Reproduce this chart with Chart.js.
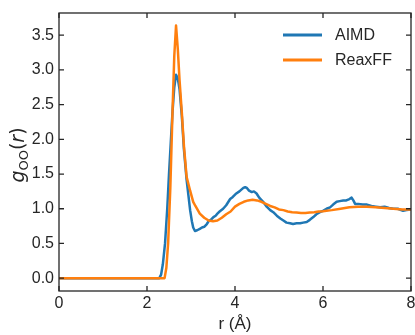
<!DOCTYPE html>
<html>
<head>
<meta charset="utf-8">
<script src="https://cdn.jsdelivr.net/npm/chart.js@4/dist/chart.umd.min.js"></script>
<style>
  html, body { margin: 0; padding: 0; background: #fff; }
</style>
</head>
<body>
<canvas id="gr" width="415" height="335"></canvas>
<script>
// AIMD g_OO(r)
const aimdR = [0, 2.28, 2.32, 2.36, 2.41, 2.46, 2.5, 2.54, 2.58, 2.62, 2.66, 2.7, 2.74, 2.79, 2.84, 2.9, 2.94, 2.98, 3.02, 3.05, 3.09, 3.14, 3.2, 3.25, 3.3, 3.36, 3.4, 3.45, 3.51, 3.56, 3.6, 3.65, 3.73, 3.8, 3.89, 3.95, 4.03, 4.1, 4.19, 4.23, 4.27, 4.32, 4.38, 4.43, 4.49, 4.55, 4.64, 4.72, 4.8, 4.87, 4.95, 5.03, 5.1, 5.17, 5.25, 5.32, 5.4, 5.48, 5.55, 5.63, 5.7, 5.78, 5.85, 5.93, 6.0, 6.08, 6.16, 6.23, 6.31, 6.38, 6.46, 6.53, 6.6, 6.65, 6.69, 6.73, 6.8, 6.9, 7.0, 7.1, 7.2, 7.3, 7.4, 7.5, 7.6, 7.7, 7.82, 7.9, 8.0]
const aimdG = [0, 0, 0.05, 0.2, 0.5, 1.0, 1.5, 1.95, 2.4, 2.75, 2.93, 2.88, 2.72, 2.35, 1.85, 1.42, 1.2, 0.98, 0.82, 0.73, 0.68, 0.69, 0.71, 0.73, 0.74, 0.78, 0.82, 0.84, 0.88, 0.9, 0.93, 0.96, 1.0, 1.05, 1.14, 1.17, 1.22, 1.25, 1.3, 1.31, 1.3, 1.26, 1.24, 1.25, 1.22, 1.16, 1.1, 1.03, 0.98, 0.95, 0.9, 0.86, 0.83, 0.8, 0.79, 0.78, 0.79, 0.79, 0.8, 0.81, 0.84, 0.88, 0.92, 0.95, 0.97, 1.0, 1.02, 1.06, 1.1, 1.11, 1.12, 1.12, 1.14, 1.16, 1.12, 1.07, 1.07, 1.06, 1.06, 1.04, 1.03, 1.02, 1.03, 1.01, 1.0, 1.0, 0.97, 0.98, 0.99]

// ReaxFF g_OO(r)
const reaxR = [0, 2.4, 2.44, 2.48, 2.53, 2.58, 2.62, 2.66, 2.7, 2.74, 2.79, 2.84, 2.9, 2.98, 3.05, 3.1, 3.2, 3.3, 3.4, 3.5, 3.6, 3.7, 3.8, 3.9, 4.0, 4.1, 4.2, 4.3, 4.4, 4.5, 4.6, 4.7, 4.8, 4.9, 5.0, 5.1, 5.2, 5.3, 5.4, 5.5, 5.6, 5.7, 5.8, 5.9, 6.0, 6.2, 6.4, 6.6, 6.8, 7.0, 7.2, 7.4, 7.6, 7.8, 8.0]
const reaxG = [0, 0, 0.15, 0.5, 1.3, 2.4, 3.2, 3.64, 3.3, 2.85, 2.4, 1.9, 1.46, 1.26, 1.1, 1.04, 0.93, 0.87, 0.83, 0.82, 0.83, 0.87, 0.92, 0.96, 1.03, 1.07, 1.1, 1.12, 1.13, 1.12, 1.1, 1.07, 1.04, 1.02, 0.99, 0.98, 0.96, 0.95, 0.945, 0.94, 0.94, 0.945, 0.95, 0.96, 0.965, 0.98, 1.0, 1.02, 1.03, 1.03, 1.02, 1.01, 1.0, 0.99, 0.99]

const xTicks = [0, 2, 4, 6, 8]
const yTicks = [0, 0.5, 1.0, 1.5, 2.0, 2.5, 3.0, 3.5]

const BLUE = '#1f77b4'
const ORANGE = '#ff7f0e'
const INK = '#262626'
const FONT = "'Liberation Sans', Arial, sans-serif"

const toPoints = (xs, ys) => xs.map((x, i) => ({ x, y: ys[i] }))

// frame with inward ticks on all four sides, legend inside, and y label with subscript
const decor = {
  id: 'decor',
  afterDraw(chart) {
    const { ctx, chartArea: a, scales: { x, y } } = chart
    ctx.save()
    ctx.strokeStyle = INK
    ctx.lineWidth = 1.3
    ctx.strokeRect(a.left, a.top, a.right - a.left, a.bottom - a.top)
    ctx.beginPath()
    for (const v of xTicks) {
      const px = x.getPixelForValue(v)
      ctx.moveTo(px, a.bottom); ctx.lineTo(px, a.bottom - 5)
      ctx.moveTo(px, a.top); ctx.lineTo(px, a.top + 5)
    }
    for (const v of yTicks) {
      const py = y.getPixelForValue(v)
      ctx.moveTo(a.left, py); ctx.lineTo(a.left + 5, py)
      ctx.moveTo(a.right, py); ctx.lineTo(a.right - 5, py)
    }
    ctx.stroke()

    // legend
    const items = [['AIMD', BLUE, 35], ['ReaxFF', ORANGE, 60]]
    ctx.lineWidth = 2.8
    ctx.font = `16px ${FONT}`
    ctx.textBaseline = 'middle'
    ctx.fillStyle = INK
    for (const [label, color, ly] of items) {
      ctx.strokeStyle = color
      ctx.beginPath()
      ctx.moveTo(283, ly); ctx.lineTo(322, ly)
      ctx.stroke()
      ctx.fillText(label, 335, ly + 1)
    }

    // y label g_OO(r)
    const parts = [
      ['g', `italic 19px 'DejaVu Sans'`, 0],
      ['OO', `13px 'DejaVu Sans'`, 4],
      ['(', `19px 'DejaVu Sans'`, 0],
      ['r', `italic 19px 'DejaVu Sans'`, 0],
      [')', `19px 'DejaVu Sans'`, 0],
    ]
    let total = 0
    for (const [t, f] of parts) { ctx.font = f; total += ctx.measureText(t).width }
    ctx.translate(24, (a.top + a.bottom) / 2 + 3)
    ctx.rotate(-Math.PI / 2)
    ctx.textBaseline = 'alphabetic'
    ctx.textAlign = 'left'
    let cx = -total / 2
    for (const [t, f, dy] of parts) {
      ctx.font = f
      ctx.fillText(t, cx, dy)
      cx += ctx.measureText(t).width
    }
    ctx.restore()
  }
}

new Chart(document.getElementById('gr'), {
  type: 'line',
  data: {
    datasets: [
      {
        label: 'AIMD',
        data: toPoints(aimdR, aimdG),
        borderColor: BLUE,
        borderWidth: 2.5,
        pointRadius: 0,
        order: 2,
      },
      {
        label: 'ReaxFF',
        data: toPoints(reaxR, reaxG),
        borderColor: ORANGE,
        borderWidth: 2.5,
        pointRadius: 0,
        order: 1,
      },
    ],
  },
  options: {
    responsive: false,
    animation: false,
    layout: { padding: { top: 13, right: 4, left: 0, bottom: 0 } },
    elements: { line: { tension: 0, borderJoinStyle: 'round', borderCapStyle: 'round' } },
    plugins: { legend: { display: false }, tooltip: { enabled: false } },
    scales: {
      x: {
        type: 'linear',
        min: 0,
        max: 8,
        afterBuildTicks: s => { s.ticks = xTicks.map(value => ({ value })) },
        afterFit: s => { s.height = 44; s.paddingLeft = 0; s.paddingRight = 0 },
        grid: { display: false, drawTicks: false },
        border: { display: false },
        ticks: { color: INK, font: { family: FONT, size: 16 }, padding: 3, maxRotation: 0 },
        title: { display: true, text: 'r (Å)', color: INK, font: { family: FONT, size: 17 }, padding: { top: 0, bottom: 0 } },
      },
      y: {
        min: -0.185,
        max: 3.82,
        afterBuildTicks: s => { s.ticks = yTicks.map(value => ({ value })) },
        afterFit: s => { s.width = 59; s.paddingTop = 0; s.paddingBottom = 0 },
        grid: { display: false, drawTicks: false },
        border: { display: false },
        ticks: { color: INK, font: { family: FONT, size: 16 }, padding: 5, callback: v => v.toFixed(1) },
      },
    },
  },
  plugins: [decor],
})
</script>
</body>
</html>
